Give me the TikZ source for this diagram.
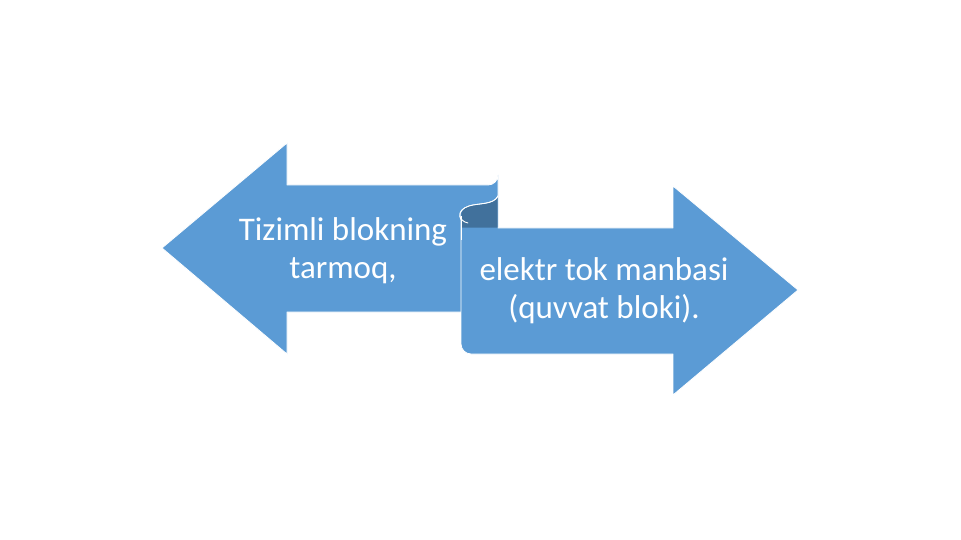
\documentclass[tikz,border=0pt]{standalone}
\usepackage{fontspec}
\setmainfont{Carlito}
\definecolor{lblue}{HTML}{5B9BD5}
\definecolor{dblue}{HTML}{41719C}
\begin{document}
\begin{tikzpicture}[x=1pt,y=-1pt,
  shapefill/.style={fill=lblue,draw=white,line width=0.8pt,line join=round},
  lbl/.style={text=white,font=\fontsize{33}{38}\selectfont,align=center,inner sep=0pt}]
\useasboundingbox[fill=white] (0,0) rectangle (961,540);
% left arrow
\path[shapefill] (162,248) -- (287,143) -- (287,185) -- (488,185)
  arc[start angle=90,end angle=0,radius=10] -- (498,312) -- (287,312) -- (287,354) -- cycle;
% right arrow
\path[shapefill] (498,196) .. controls (494,205) and (478,203) .. (469,206)
  .. controls (458,210) and (459,216) .. (461,220) -- (461,344)
  arc[start angle=180,end angle=90,radius=10] -- (673,354) -- (673,395) -- (798,290)
  -- (673,186) -- (673,228) -- (498,228) -- cycle;
% dark back of the curl
\path[fill=dblue] (497.6,197) .. controls (494,205.5) and (478,203.5) .. (469,206.5)
  .. controls (458.5,210) and (461.5,216) .. (461.6,220) -- (461.6,227.6) -- (497.6,227.6) -- cycle;
\draw[white,line width=0.9pt,line cap=round] (498,196) .. controls (494,205) and (478,203) .. (469,206)
  .. controls (456,210) and (458,221) .. (468,223);
\draw[white,line width=0.9pt] (461,216) -- (461,240);
\node[lbl] (lt) at (343,251) {Tizimli blokning\\tarmoq,};
\node[lbl] (rt) at (604,291) {elektr tok manbasi\\(quvvat bloki).};
\end{tikzpicture}
\end{document}
